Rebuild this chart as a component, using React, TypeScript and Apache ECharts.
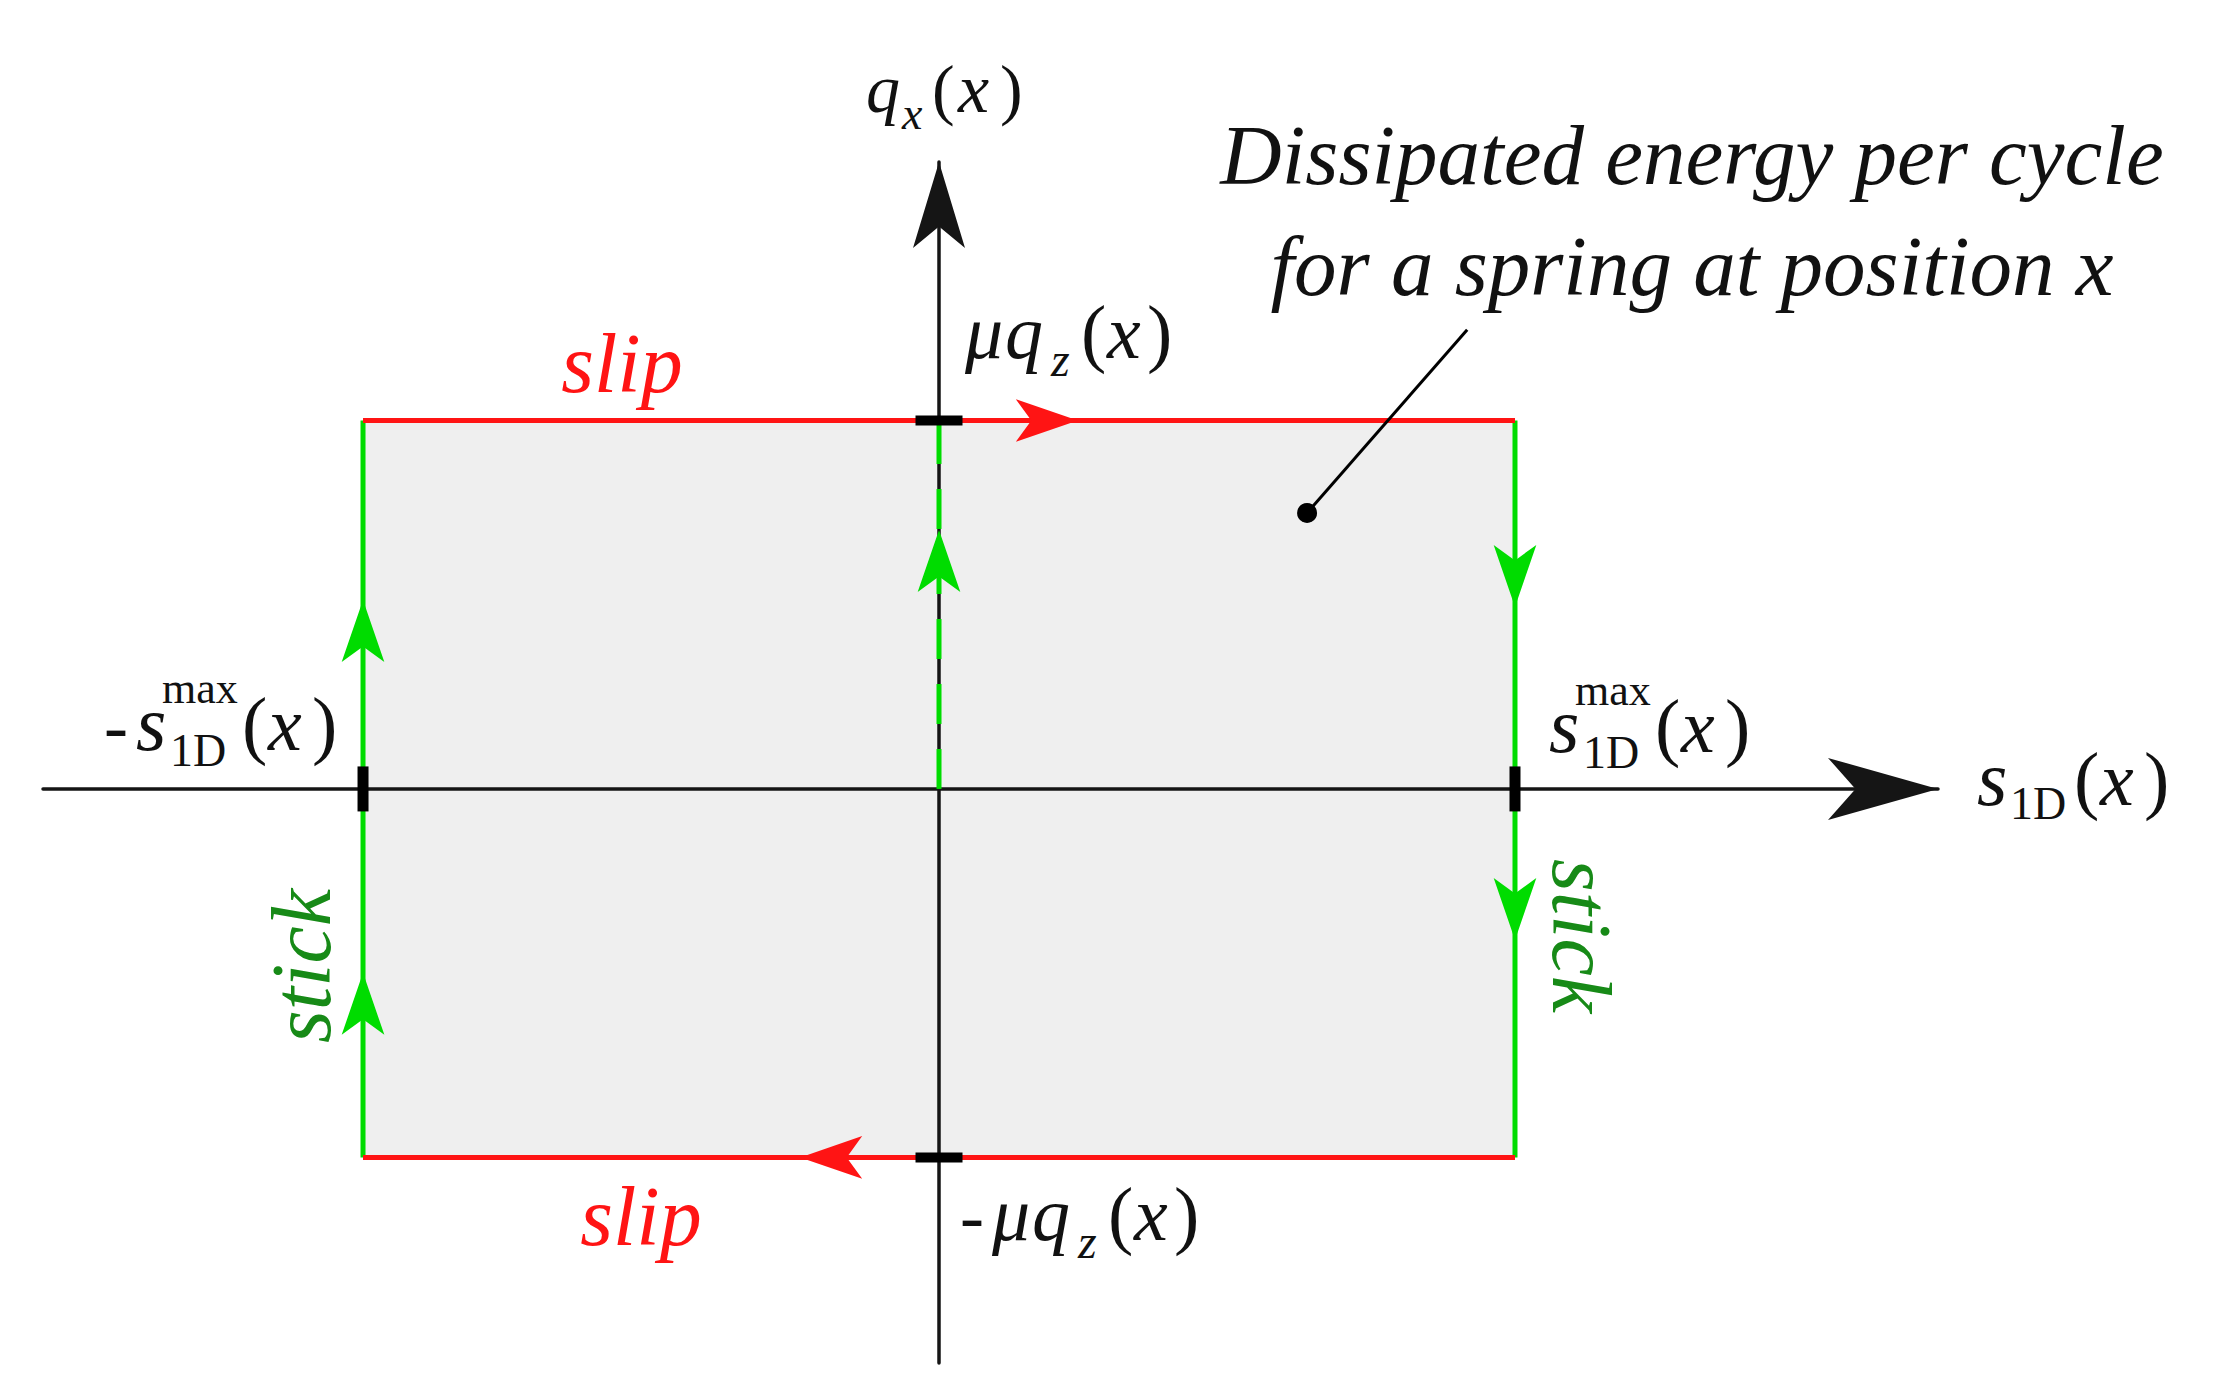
import React, { useEffect, useRef } from 'react';
import * as echarts from 'echarts';

// ---- data (diagram units: s1D^max = 1, mu*qz = 1) ----
const S_MAX = 1;
const MU_QZ = 1;
const X_RANGE = [-1.5556, 1.7344];
const Y_RANGE = [-1.558, 1.7015];

const slipTop = [[-S_MAX, MU_QZ], [S_MAX, MU_QZ]];
const slipBottom = [[S_MAX, -MU_QZ], [-S_MAX, -MU_QZ]];
const stickLeft = [[-S_MAX, -MU_QZ], [-S_MAX, MU_QZ]];
const stickRight = [[S_MAX, MU_QZ], [S_MAX, -MU_QZ]];
const stickCenter = [[0, 0], [0, MU_QZ]];
// arrow tips: [x, y, rotation in degrees]
const redArrows = [[0.241, MU_QZ, -90], [-0.241, -MU_QZ, 90]];
const greenArrows = [
  [-S_MAX, 0.513, 0],
  [-S_MAX, -0.499, 0],
  [S_MAX, 0.494, 180],
  [S_MAX, -0.41, 180],
  [0, 0.703, 0],
];
const hTicks = [[0, MU_QZ], [0, -MU_QZ]];
const vTicks = [[-S_MAX, 0], [S_MAX, 0]];
const annotationLine = [[0.639, 0.749], [0.917, 1.246]];
const annotationDot = [[0.639, 0.749]];

const annotationLines = ['Dissipated energy per cycle', 'for a spring at position x'];

const FONT = "'Liberation Serif', 'Times New Roman', serif";
const RED = '#ff1414';
const GREEN = '#00dc00';
const GREEN_TEXT = '#178a17';
const INK = '#111111';

function frag(text: string, x: number, base: number, size: number, italic = true, color = INK, align = 'left') {
  return {
    type: 'text',
    x,
    y: base - 0.34 * size,
    silent: true,
    style: {
      text,
      fill: color,
      fontFamily: FONT,
      fontSize: size,
      fontStyle: italic ? 'italic' : 'normal',
      align,
      verticalAlign: 'middle',
    },
  };
}

function rotText(text: string, x: number, y: number, size: number, rotation: number, color: string) {
  return {
    type: 'text',
    x,
    y,
    rotation,
    silent: true,
    style: {
      text,
      fill: color,
      fontFamily: FONT,
      fontSize: size,
      fontStyle: 'italic',
      align: 'center',
      verticalAlign: 'middle',
    },
  };
}

function sLabel(dx: number, base: number, withMax: boolean) {
  const out: any[] = [];
  out.push(frag('s', dx, base, 78));
  if (withMax) {
    out.push(frag('max', dx + 26, base - 47, 44, false));
    out.push(frag('1D', dx + 34, base + 16, 46, false));
    out.push(frag('(', dx + 106, base, 76, false));
    out.push(frag('x', dx + 132, base, 76));
    out.push(frag(')', dx + 176, base, 76, false));
  } else {
    out.push(frag('1D', dx + 33, base + 14, 46, false));
    out.push(frag('(', dx + 97, base, 76, false));
    out.push(frag('x', dx + 123, base, 76));
    out.push(frag(')', dx + 167, base, 76, false));
  }
  return out;
}

function muLabel(dx: number, base: number, neg: boolean) {
  const out: any[] = [];
  if (neg) out.push(frag('-', dx - 32, base, 72, false));
  out.push(frag('μ', dx, base, 76));
  out.push(frag('q', dx + 40, base, 76));
  out.push(frag('z', dx + 86, base + 18, 48));
  out.push(frag('(', dx + 116, base, 76, false));
  out.push(frag('x', dx + 142, base, 76));
  out.push(frag(')', dx + 182, base, 76, false));
  return out;
}

export default function App() {
  const ref = useRef<HTMLDivElement>(null);
  useEffect(() => {
    if (!ref.current) return;
    const chart = echarts.init(ref.current, undefined, { renderer: 'svg' });

    const lineSeries = (data: number[][], color: string, width: number, extra: any = {}) => ({
      type: 'line',
      data,
      showSymbol: false,
      symbol: 'none',
      silent: true,
      z: 3,
      lineStyle: { color, width, cap: 'butt', ...extra },
    });

    const graphics: any[] = [
      // q_x(x)
      frag('q', 866, 112, 68),
      frag('x', 902, 129, 46),
      frag('(', 932, 112, 68, false),
      frag('x', 958, 112, 70),
      frag(')', 1000, 112, 68, false),
      ...muLabel(965, 358, false),
      ...muLabel(992, 1240, true),
      frag('-', 104, 750, 72, false),
      ...sLabel(136, 750, true),
      ...sLabel(1549, 752, true),
      ...sLabel(1977, 805, false),
      frag('slip', 622, 392, 84, true, RED, 'center'),
      frag('slip', 641, 1245, 84, true, RED, 'center'),
      rotText('stick', 876, 654, 84, Math.PI / 2, GREEN_TEXT),
      rotText('stick', 301, 966, 84, Math.PI / 2, GREEN_TEXT),
      rotText('stick', 1581, 936, 84, -Math.PI / 2, GREEN_TEXT),
      frag(annotationLines[0], 1692, 184, 85, true, INK, 'center'),
      frag(annotationLines[1], 1692, 295, 85, true, INK, 'center'),
    ];

    chart.setOption({
      animation: false,
      backgroundColor: '#ffffff',
      grid: { left: 43, right: 279, top: 162, bottom: 26, containLabel: false },
      xAxis: {
        type: 'value',
        min: X_RANGE[0],
        max: X_RANGE[1],
        z: 1,
        axisLine: {
          onZero: true,
          symbol: ['none', 'arrow'],
          symbolSize: [46.5, 110],
          lineStyle: { color: '#151515', width: 3.5 },
        },
        axisTick: { show: false },
        axisLabel: { show: false },
        splitLine: { show: false },
      },
      yAxis: {
        type: 'value',
        min: Y_RANGE[0],
        max: Y_RANGE[1],
        z: 1,
        axisLine: {
          onZero: true,
          symbol: ['none', 'arrow'],
          symbolSize: [39, 86],
          lineStyle: { color: '#151515', width: 3.5 },
        },
        axisTick: { show: false },
        axisLabel: { show: false },
        splitLine: { show: false },
      },
      series: [
        {
          type: 'custom',
          z: 0,
          silent: true,
          data: [[-S_MAX, MU_QZ, S_MAX, -MU_QZ]],
          encode: { x: [0, 2], y: [1, 3] },
          renderItem: (params: any, api: any) => {
            const p1 = api.coord([api.value(0), api.value(1)]);
            const p2 = api.coord([api.value(2), api.value(3)]);
            return {
              type: 'rect',
              shape: { x: p1[0], y: p1[1], width: p2[0] - p1[0], height: p2[1] - p1[1] },
              style: { fill: '#efefef' },
            };
          },
        },
        lineSeries(stickCenter, GREEN, 5, { type: [40, 25] }),
        lineSeries(stickLeft, GREEN, 5),
        lineSeries(stickRight, GREEN, 5),
        lineSeries(slipTop, RED, 5),
        lineSeries(slipBottom, RED, 5),
        {
          type: 'scatter',
          silent: true,
          z: 4,
          symbol: 'arrow',
          symbolSize: [32, 62],
          itemStyle: { color: RED, opacity: 1 },
          data: redArrows.map((a) => ({ value: [a[0], a[1]], symbolRotate: a[2] })),
        },
        {
          type: 'scatter',
          silent: true,
          z: 4,
          symbol: 'arrow',
          symbolSize: [32, 62],
          itemStyle: { color: GREEN, opacity: 1 },
          data: greenArrows.map((a) => ({ value: [a[0], a[1]], symbolRotate: a[2] })),
        },
        {
          type: 'scatter',
          silent: true,
          z: 5,
          symbol: 'rect',
          symbolSize: [47, 10],
          itemStyle: { color: '#000', opacity: 1 },
          data: hTicks,
        },
        {
          type: 'scatter',
          silent: true,
          z: 5,
          symbol: 'rect',
          symbolSize: [11, 45],
          itemStyle: { color: '#000', opacity: 1 },
          data: vTicks,
        },
        { ...lineSeries(annotationLine, '#000', 3), z: 6 },
        {
          type: 'scatter',
          silent: true,
          z: 6,
          symbol: 'circle',
          symbolSize: 20,
          itemStyle: { color: '#000', opacity: 1 },
          data: annotationDot,
        },
      ],
      graphic: { elements: graphics },
    });

    return () => chart.dispose();
  }, []);

  return (
    <div
      ref={ref}
      style={{ position: 'absolute', left: 0, top: 0, width: 2217, height: 1389, background: '#fff' }}
    />
  );
}
